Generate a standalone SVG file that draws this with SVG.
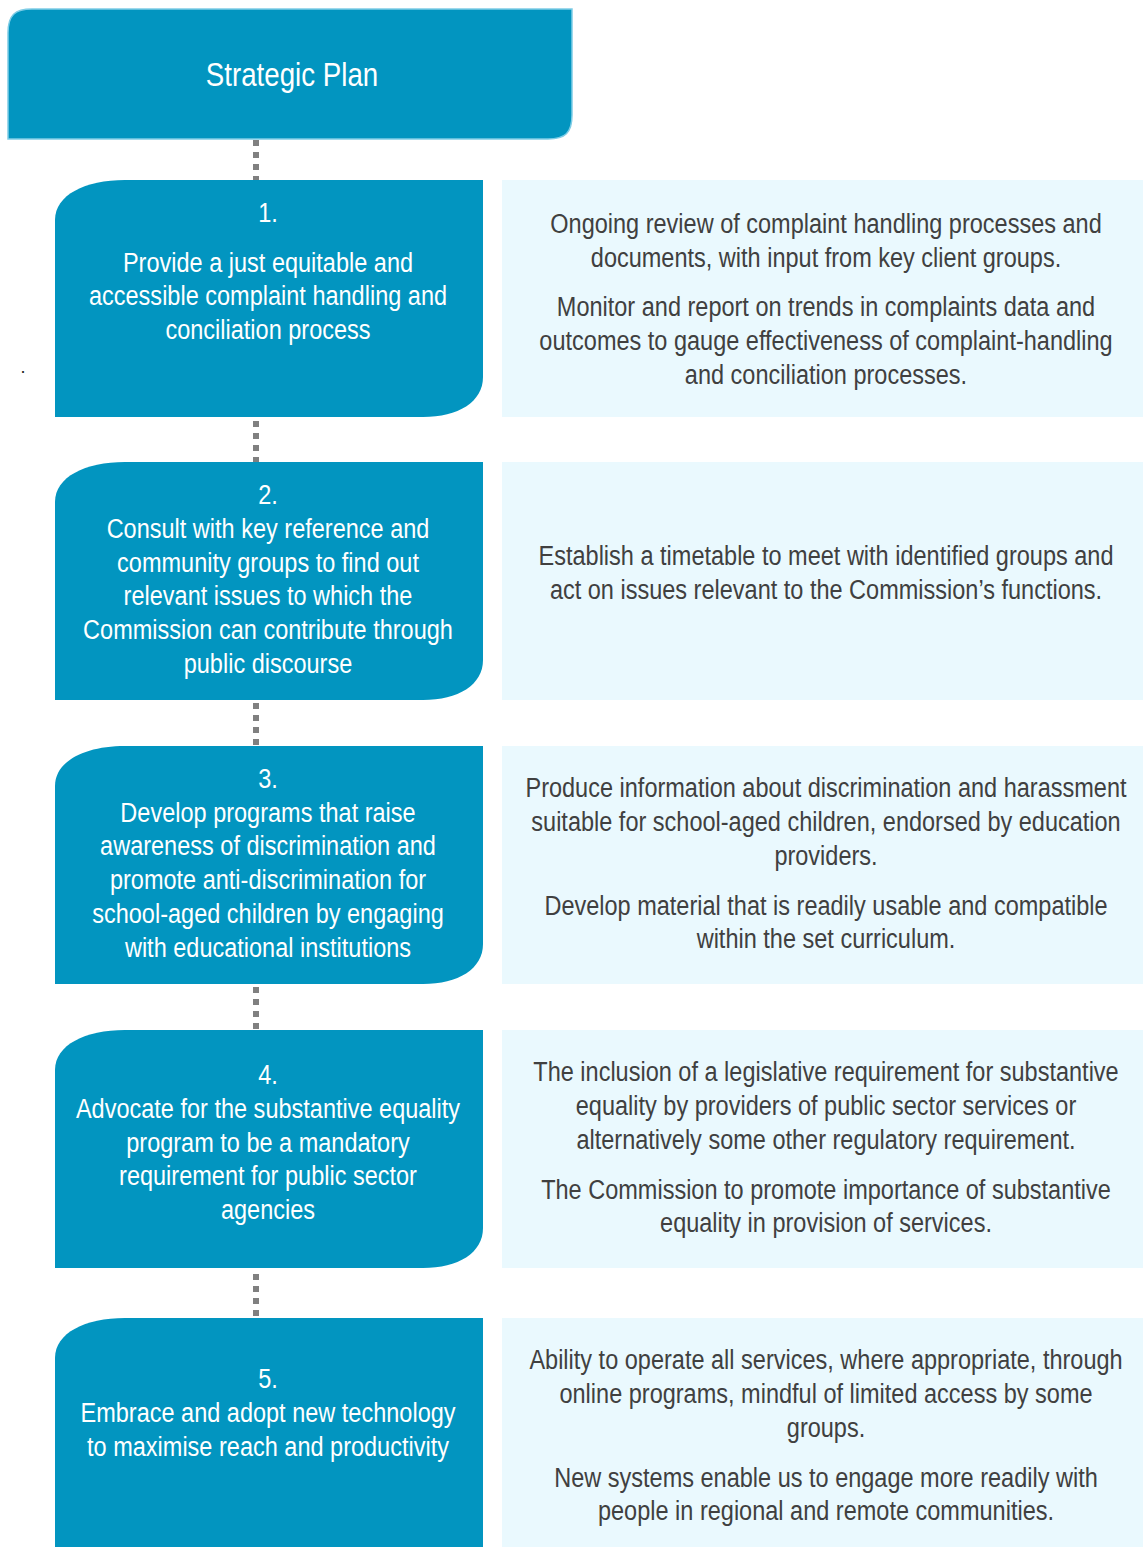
<svg xmlns="http://www.w3.org/2000/svg" width="1143" height="1547" viewBox="0 0 1143 1547">
<style>
.node{fill:#0295c0}
.panel{fill:#eaf9fe}
.t{font-family:"Liberation Sans",Arial,sans-serif;font-size:28px;text-anchor:middle}
.w{fill:#ffffff}
.d{fill:#404040}
.conn{stroke:#808080;stroke-width:6;stroke-dasharray:6 6;fill:none}
</style>
<rect width="1143" height="1547" fill="#ffffff"/>
<g id="connectors">
<line class="conn" x1="256" y1="140" x2="256" y2="180"/>
<line class="conn" x1="256" y1="421" x2="256" y2="462"/>
<line class="conn" x1="256" y1="703" x2="256" y2="746"/>
<line class="conn" x1="256" y1="987" x2="256" y2="1030"/>
<line class="conn" x1="256" y1="1274" x2="256" y2="1318"/>
</g>
<g id="header">
<path d="M8,139 V33 C8,15 15,9 32,9 H572 V115 C572,133 565,139 548,139 Z" fill="#0295c0" stroke="#7fcde6" stroke-width="1.5"/>
<g transform="translate(292,-1) scale(0.84,1)"><text class="t w" x="0" y="87" style="font-size:33px">Strategic Plan</text></g>
</g>
<g id="goal1">
<path class="node" d="M55,417 V220 C55,195 85,180 125,180 H483 V377 C483,402 458,417 423,417 Z"/>
<g transform="translate(268,-1) scale(0.84,1)">
<text class="t w" x="0" y="223">1.</text>
<text class="t w" x="0" y="273">Provide a just equitable and</text>
<text class="t w" x="0" y="306">accessible complaint handling and</text>
<text class="t w" x="0" y="340">conciliation process</text>
</g>
</g>
<g id="actions1">
<rect class="panel" x="502" y="180" width="641" height="237"/>
<g transform="translate(826,-1) scale(0.84,1)">
<text class="t d" x="0" y="234">Ongoing review of complaint handling processes and</text>
<text class="t d" x="0" y="268">documents, with input from key client groups.</text>
<text class="t d" x="0" y="317">Monitor and report on trends in complaints data and</text>
<text class="t d" x="0" y="351">outcomes to gauge effectiveness of complaint-handling</text>
<text class="t d" x="0" y="385">and conciliation processes.</text>
</g>
</g>
<g id="goal2">
<path class="node" d="M55,700 V502 C55,477 85,462 125,462 H483 V660 C483,685 458,700 423,700 Z"/>
<g transform="translate(268,-1) scale(0.84,1)">
<text class="t w" x="0" y="505">2.</text>
<text class="t w" x="0" y="539">Consult with key reference and</text>
<text class="t w" x="0" y="573">community groups to find out</text>
<text class="t w" x="0" y="606">relevant issues to which the</text>
<text class="t w" x="0" y="640">Commission can contribute through</text>
<text class="t w" x="0" y="674">public discourse</text>
</g>
</g>
<g id="actions2">
<rect class="panel" x="502" y="462" width="641" height="238"/>
<g transform="translate(826,-1) scale(0.84,1)">
<text class="t d" x="0" y="566">Establish a timetable to meet with identified groups and</text>
<text class="t d" x="0" y="600">act on issues relevant to the Commission’s functions.</text>
</g>
</g>
<g id="goal3">
<path class="node" d="M55,984 V786 C55,761 85,746 125,746 H483 V944 C483,969 458,984 423,984 Z"/>
<g transform="translate(268,-1) scale(0.84,1)">
<text class="t w" x="0" y="789">3.</text>
<text class="t w" x="0" y="823">Develop programs that raise</text>
<text class="t w" x="0" y="856">awareness of discrimination and</text>
<text class="t w" x="0" y="890">promote anti-discrimination for</text>
<text class="t w" x="0" y="924">school-aged children by engaging</text>
<text class="t w" x="0" y="958">with educational institutions</text>
</g>
</g>
<g id="actions3">
<rect class="panel" x="502" y="746" width="641" height="238"/>
<g transform="translate(826,-1) scale(0.84,1)">
<text class="t d" x="0" y="798">Produce information about discrimination and harassment</text>
<text class="t d" x="0" y="832">suitable for school-aged children, endorsed by education</text>
<text class="t d" x="0" y="866">providers.</text>
<text class="t d" x="0" y="916">Develop material that is readily usable and compatible</text>
<text class="t d" x="0" y="949">within the set curriculum.</text>
</g>
</g>
<g id="goal4">
<path class="node" d="M55,1268 V1070 C55,1045 85,1030 125,1030 H483 V1228 C483,1253 458,1268 423,1268 Z"/>
<g transform="translate(268,-1) scale(0.84,1)">
<text class="t w" x="0" y="1085">4.</text>
<text class="t w" x="0" y="1119">Advocate for the substantive equality</text>
<text class="t w" x="0" y="1153">program to be a mandatory</text>
<text class="t w" x="0" y="1186">requirement for public sector</text>
<text class="t w" x="0" y="1220">agencies</text>
</g>
</g>
<g id="actions4">
<rect class="panel" x="502" y="1030" width="641" height="238"/>
<g transform="translate(826,-1) scale(0.84,1)">
<text class="t d" x="0" y="1082">The inclusion of a legislative requirement for substantive</text>
<text class="t d" x="0" y="1116">equality by providers of public sector services or</text>
<text class="t d" x="0" y="1150">alternatively some other regulatory requirement.</text>
<text class="t d" x="0" y="1200">The Commission to promote importance of substantive</text>
<text class="t d" x="0" y="1233">equality in provision of services.</text>
</g>
</g>
<g id="goal5">
<path class="node" d="M55,1600 V1358 C55,1333 85,1318 125,1318 H483 V1560 C483,1585 458,1600 423,1600 Z"/>
<g transform="translate(268,-1) scale(0.84,1)">
<text class="t w" x="0" y="1389">5.</text>
<text class="t w" x="0" y="1423">Embrace and adopt new technology</text>
<text class="t w" x="0" y="1457">to maximise reach and productivity</text>
</g>
</g>
<g id="actions5">
<rect class="panel" x="502" y="1318" width="641" height="229"/>
<g transform="translate(826,-1) scale(0.84,1)">
<text class="t d" x="0" y="1370">Ability to operate all services, where appropriate, through</text>
<text class="t d" x="0" y="1404">online programs, mindful of limited access by some</text>
<text class="t d" x="0" y="1438">groups.</text>
<text class="t d" x="0" y="1488">New systems enable us to engage more readily with</text>
<text class="t d" x="0" y="1521">people in regional and remote communities.</text>
</g>
</g>
<text class="t d" x="23" y="373" style="font-size:18px;fill:#222222">.</text>
</svg>
